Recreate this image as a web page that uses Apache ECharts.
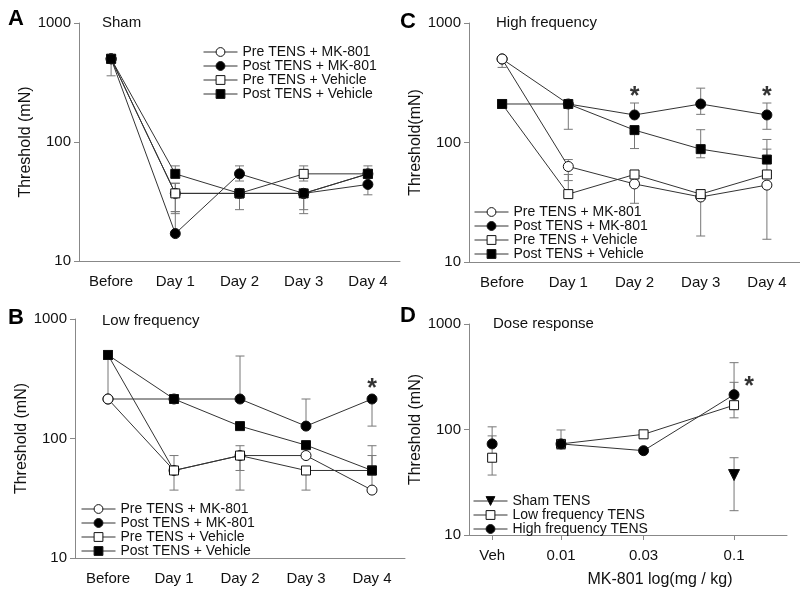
<!DOCTYPE html>
<html><head><meta charset="utf-8">
<script src="https://cdn.jsdelivr.net/npm/echarts@6/dist/echarts.min.js"></script>
<style>html,body{margin:0;padding:0;background:#fff}#c{width:800px;height:597px}</style>
</head><body><div id="c"></div>
<script>
const FONT = 'Liberation Sans, Arial, sans-serif';
const days = ['Before', 'Day 1', 'Day 2', 'Day 3', 'Day 4'];
const names = ['Pre TENS + MK-801', 'Post TENS + MK-801', 'Pre TENS + Vehicle', 'Post TENS + Vehicle'];

// Panel A: Sham
const shamPreMK   = [500, 37, 37, 37, 54];
const shamPostMK  = [500, 17, 54, 37, 44];
const shamPreVeh  = [500, 37, 37, 54, 54];
const shamPostVeh = [500, 54, 37, 37, 54];
const shamPreMKErr   = [null, [25, 45], null, [25, 37], null];
const shamPostMKErr  = [null, [17, 26], [47, 63], null, [36, 44]];
const shamPreVehErr  = [null, [26, 45], null, [47, 63], null];
const shamPostVehErr = [[360, 500], [54, 63], [27, 37], [27, 37], [54, 63]];

// Panel B: Low frequency
const lowPreMK   = [214, 54, 72, 72, 37];
const lowPostMK  = [214, 214, 214, 127, 214];
const lowPreVeh  = [500, 54, 72, 54, 54];
const lowPostVeh = [500, 214, 127, 88, 54];
const lowPreMKErr   = [[214, 500], null, [37, 72], null, [37, 72]];
const lowPostMKErr  = [null, null, [214, 490], [127, 214], [127, 214]];
const lowPreVehErr  = [null, [37, 72], [54, 87], [37, 54], null];
const lowPostVehErr = [null, null, null, null, [54, 87]];
const lowSig = [null, null, null, null, 259];

// Panel C: High frequency
const highPreMK   = [500, 63, 45, 35, 44];
const highPostMK  = [500, 210, 170, 210, 170];
const highPreVeh  = [210, 37, 54, 37, 54];
const highPostVeh = [210, 210, 127, 88, 72];
const highPreMKErr   = [[425, 500], [48, 72], [31, 45], [16.5, 35], [15.5, 44]];
const highPostMKErr  = [null, [129, 210], [170, 214], [172, 285], [129, 214]];
const highPreVehErr  = [null, [37, 54], null, null, [54, 88]];
const highPostVehErr = [null, [195, 210], [89, 127], [74.5, 128], [72, 106]];
const highSig = [null, null, 238, null, 238];

// Panel D: Dose response
const doseLabels = ['Veh', '0.01', '0.03', '0.1'];
const dosePos = [0.004, 0.01, 0.03, 0.1];
const shamTENS = [null, null, null, 37];
const lowTENS  = [54, 73, 90, 170];
const highTENS = [73, 73, 63, 214];
const shamTENSErr = [null, null, null, [17, 54]];
const lowTENSErr  = [[37, 87], null, null, [129, 280]];
const highTENSErr = [[73, 106], [65, 99], null, [214, 430]];
const doseSig = [null, null, null, 253];

const LINE = '#333', AX = '#888', TXT = '#111', ERR = '#777';

function yAx(i, name, gap) {
  return {type: 'log', logBase: 10, min: 10, max: 1000, gridIndex: i, name: name,
    nameLocation: 'middle', nameGap: gap,
    nameTextStyle: {fontSize: 16, color: TXT, fontFamily: FONT},
    axisLine: {show: true, lineStyle: {color: AX}},
    axisTick: {show: true, length: 5, lineStyle: {color: AX}},
    minorTick: {show: false}, splitLine: {show: false},
    axisLabel: {fontSize: 15, color: TXT, fontFamily: FONT, margin: 8,
      formatter: function (v) { return String(Math.round(v)); }}};
}
function xCat(i) {
  return {type: 'category', data: days, gridIndex: i, boundaryGap: true,
    axisLine: {lineStyle: {color: AX}},
    axisTick: {alignWithLabel: true, length: 5, lineStyle: {color: AX}},
    axisLabel: {fontSize: 15, color: TXT, fontFamily: FONT, margin: 13}};
}
function lineS(name, data, i, sym, filled) {
  return {type: 'line', name: name, data: data, xAxisIndex: i, yAxisIndex: i,
    symbol: sym, symbolSize: sym === 'circle' ? 10 : 9, showSymbol: true,
    lineStyle: {color: LINE, width: 1},
    itemStyle: {color: filled ? '#000' : '#fff', borderColor: '#111', borderWidth: 1},
    emphasis: {disabled: true}, z: 3, animation: false};
}
function errS(xs, errs, i) {
  const d = [];
  errs.forEach((e, k) => { if (e) d.push([xs[k], e[0], e[1]]); });
  return {type: 'custom', xAxisIndex: i, yAxisIndex: i, data: d, z: 1, silent: true,
    animation: false,
    renderItem: function (params, api) {
      const x = api.value(0);
      const p1 = api.coord([x, api.value(1)]);
      const p2 = api.coord([x, api.value(2)]);
      const w = 4.5, st = {stroke: ERR, lineWidth: 1};
      return {type: 'group', children: [
        {type: 'line', shape: {x1: p1[0], y1: p1[1], x2: p2[0], y2: p2[1]}, style: st},
        {type: 'line', shape: {x1: p1[0] - w, y1: p1[1], x2: p1[0] + w, y2: p1[1]}, style: st},
        {type: 'line', shape: {x1: p2[0] - w, y1: p2[1], x2: p2[0] + w, y2: p2[1]}, style: st}
      ]};
    }};
}
function sigS(xs, vals, i, dx) {
  const d = [];
  vals.forEach((v, k) => { if (v != null) d.push([xs[k], v]); });
  return {type: 'scatter', data: d, xAxisIndex: i, yAxisIndex: i, symbol: 'circle',
    symbolSize: 1, itemStyle: {color: 'rgba(0,0,0,0)'}, silent: true, z: 5,
    label: {show: true, position: 'inside', offset: [dx || 0, 0], formatter: '*',
      fontSize: 25, fontWeight: 'bold', color: '#000', fontFamily: FONT}};
}
function legendAt(left, top, data) {
  return {data: data, orient: 'vertical', left: left, top: top, itemWidth: 34, itemHeight: 11,
    itemGap: 0, padding: 0, selectedMode: false,
    itemStyle: {borderWidth: 1, borderColor: '#111'},
    lineStyle: {width: 1, color: LINE},
    textStyle: {fontSize: 14, color: TXT, fontFamily: FONT, lineHeight: 14}};
}
function panelSeries(i, pre, post, preV, postV, preE, postE, preVE, postVE) {
  const idx = days.map((d, k) => k);
  return [
    errS(idx, postE, i), errS(idx, preE, i), errS(idx, preVE, i), errS(idx, postVE, i),
    lineS(names[1], post, i, 'circle', true),
    lineS(names[0], pre, i, 'circle', false),
    lineS(names[2], preV, i, 'rect', false),
    lineS(names[3], postV, i, 'rect', true)
  ];
}

const lx = dosePos.map(p => Math.log10(p));
function dosePts(vals, from) {
  const d = [];
  vals.forEach((v, k) => { if (v != null && k >= from) d.push([lx[k], v]); });
  return d;
}

const series = [].concat(
  panelSeries(0, shamPreMK, shamPostMK, shamPreVeh, shamPostVeh, shamPreMKErr, shamPostMKErr, shamPreVehErr, shamPostVehErr),
  panelSeries(1, lowPreMK, lowPostMK, lowPreVeh, lowPostVeh, lowPreMKErr, lowPostMKErr, lowPreVehErr, lowPostVehErr),
  panelSeries(2, highPreMK, highPostMK, highPreVeh, highPostVeh, highPreMKErr, highPostMKErr, highPreVehErr, highPostVehErr),
  [sigS(days.map((d, k) => k), lowSig, 1), sigS(days.map((d, k) => k), highSig, 2)],
  [
    errS(lx, shamTENSErr, 3), errS(lx, lowTENSErr, 3), errS(lx, highTENSErr, 3),
    Object.assign(lineS('Sham TENS', dosePts(shamTENS, 0), 3, 'triangle', true), {symbolRotate: 180, symbolSize: 11}),
    lineS('Low frequency TENS', dosePts(lowTENS, 1), 3, 'rect', false),
    lineS('Low Veh', dosePts(lowTENS, 0).slice(0, 1), 3, 'rect', false),
    lineS('High frequency TENS', dosePts(highTENS, 1), 3, 'circle', true),
    lineS('High Veh', dosePts(highTENS, 0).slice(0, 1), 3, 'circle', true),
    sigS(lx, doseSig, 3, 15)
  ]
);

const chart = echarts.init(document.getElementById('c'), null, {renderer: 'canvas'});
chart.setOption({
  animation: false,
  backgroundColor: '#fff',
  grid: [
    {left: 79, top: 23, width: 321, height: 238},
    {left: 75, top: 319, width: 330, height: 239},
    {left: 469, top: 23, width: 331, height: 239},
    {left: 469, top: 324, width: 318, height: 211}
  ],
  xAxis: [xCat(0), xCat(1), xCat(2),
    {type: 'value', gridIndex: 3, min: Math.log10(0.00294), max: Math.log10(0.2023),
      splitLine: {show: false},
      axisLine: {lineStyle: {color: AX}},
      axisTick: {show: true, length: 5, lineStyle: {color: AX}, customValues: lx},
      axisLabel: {fontSize: 15, color: TXT, fontFamily: FONT, margin: 13, customValues: lx,
        formatter: function (v) {
          for (let k = 0; k < lx.length; k++) if (Math.abs(lx[k] - v) < 1e-6) return doseLabels[k];
          return '';
        }},
      name: 'MK-801 log(mg / kg)', nameLocation: 'middle', nameGap: 37,
      nameTextStyle: {fontSize: 16, color: TXT, fontFamily: FONT, padding: [0, 0, 0, 64]}}
  ],
  yAxis: [yAx(0, 'Threshold (mN)', 41), yAx(1, 'Threshold (mN)', 38), yAx(2, 'Threshold(mN)', 40), yAx(3, 'Threshold (mN)', 38)],
  legend: [
    legendAt(203, 45, names),
    legendAt(81, 502, names),
    legendAt(474, 205, names),
    legendAt(473, 494, ['Sham TENS', 'Low frequency TENS', 'High frequency TENS'])
  ],
  series: series,
  graphic: [
    {type: 'text', left: 8, top: 8, style: {text: 'A', fontSize: 22, fontWeight: 'bold', fill: '#000', fontFamily: FONT}},
    {type: 'text', left: 8, top: 307, style: {text: 'B', fontSize: 22, fontWeight: 'bold', fill: '#000', fontFamily: FONT}},
    {type: 'text', left: 400, top: 11, style: {text: 'C', fontSize: 22, fontWeight: 'bold', fill: '#000', fontFamily: FONT}},
    {type: 'text', left: 400, top: 305, style: {text: 'D', fontSize: 22, fontWeight: 'bold', fill: '#000', fontFamily: FONT}},
    {type: 'text', left: 102, top: 15, style: {text: 'Sham', fontSize: 15, fill: TXT, fontFamily: FONT}},
    {type: 'text', left: 102, top: 313, style: {text: 'Low frequency', fontSize: 15, fill: TXT, fontFamily: FONT}},
    {type: 'text', left: 496, top: 15, style: {text: 'High frequency', fontSize: 15, fill: TXT, fontFamily: FONT}},
    {type: 'text', left: 493, top: 316, style: {text: 'Dose response', fontSize: 15, fill: TXT, fontFamily: FONT}}
  ]
});
</script></body></html>
